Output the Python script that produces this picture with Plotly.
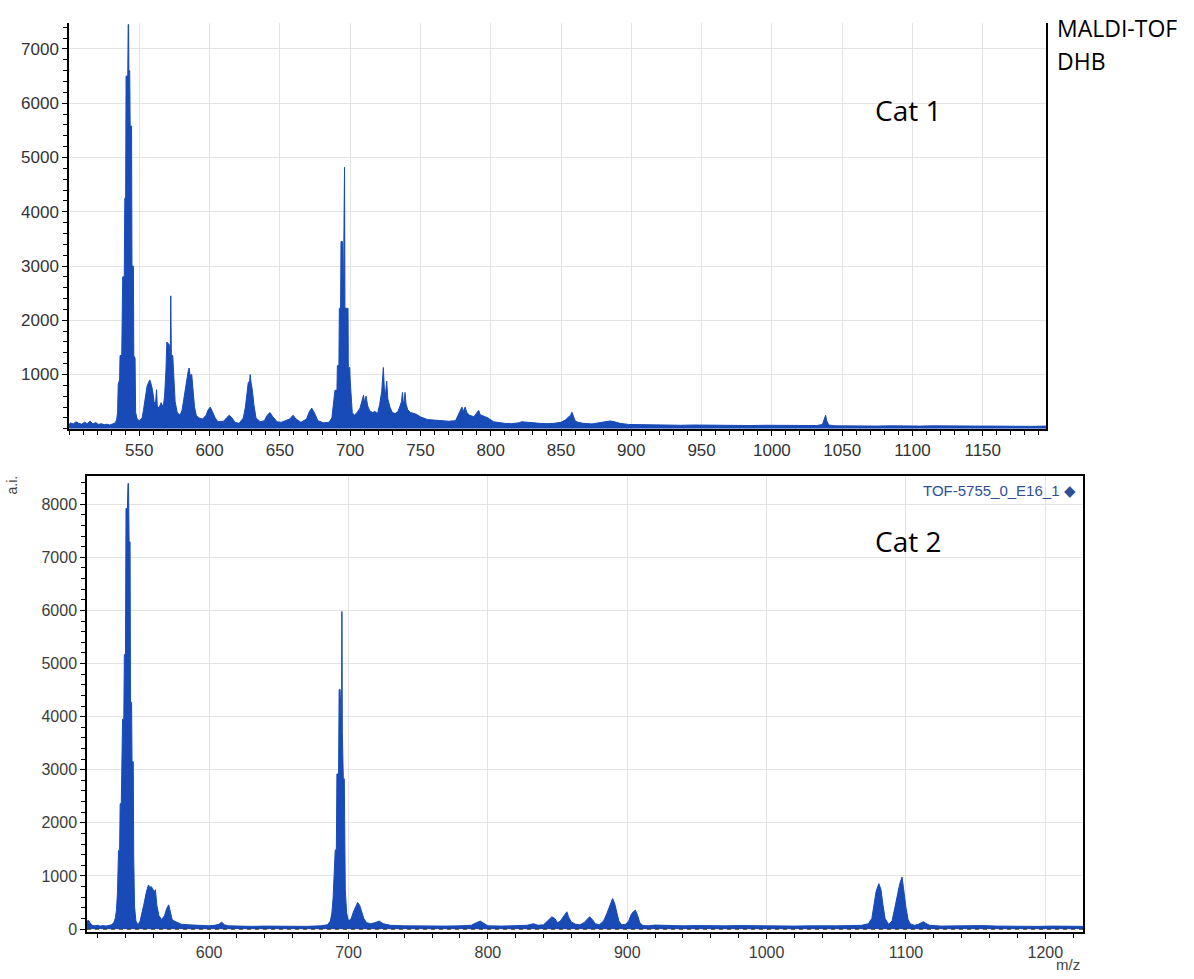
import plotly.graph_objects as go

# ---------------- data ----------------
# Top spectrum (Cat 1): (m/z, intensity) points
top_spectrum = [
    (500, 60), (501, 110), (503, 90), (505, 130), (507, 100), (509, 85), (511, 120), (513, 95),
    (515, 140), (517, 90), (519, 115), (521, 80), (523, 95), (525, 75), (527, 85), (529, 70),
    (531, 90), (533, 110), (534, 180), (534.6, 320), (535, 820), (536, 900), (536.3, 1350),
    (537.5, 1350), (538.2, 2800), (539.3, 2800), (539.7, 4250), (540.3, 4250), (540.6, 6500),
    (541.8, 6500), (542.1, 7450), (542.4, 7450), (542.6, 6600), (543.2, 6600), (543.5, 5580),
    (544.5, 5580), (544.8, 3000), (545.8, 3000), (546.1, 1350), (547, 1300), (547.4, 300),
    (548.5, 180), (550, 150), (552, 200), (553, 350), (554.5, 600), (555.5, 780), (556.5, 850),
    (557.5, 900), (558.5, 820), (559.5, 700), (560.5, 500), (561.5, 450), (562.3, 720),
    (562.8, 420), (564, 380), (565.5, 480), (567, 400), (568, 600), (569, 1100), (569.6, 1600),
    (571.3, 1550), (572, 1300), (572.4, 2450), (572.8, 1350), (573.8, 1350), (574.5, 900),
    (575.5, 500), (577, 300), (579, 250), (580.5, 350), (582, 600), (583.5, 900), (584.7, 1050),
    (585.4, 1120), (586.2, 980), (587.3, 1000), (588.3, 700), (589.3, 400), (590.5, 250),
    (592.5, 200), (595, 180), (597.5, 250), (599, 350), (600.5, 400), (602, 320), (604, 200),
    (606, 130), (608, 140), (610, 140), (612, 200), (614, 250), (616, 200), (618, 120),
    (621, 100), (624, 200), (625.5, 400), (626.5, 650), (627.5, 850), (628.5, 880), (628.9, 1000),
    (629.5, 850), (630.5, 700), (631.5, 450), (633, 200), (636, 130), (639, 150), (641, 250),
    (643, 300), (645, 220), (648, 130), (651, 120), (654, 150), (657, 180), (659.4, 250),
    (661.5, 180), (665, 120), (669, 180), (671, 320), (672.7, 380), (674.5, 300), (677, 150),
    (681, 110), (685, 120), (687, 200), (688, 400), (689.2, 710), (690.6, 710), (690.9, 1165),
    (692, 1165), (692.3, 2220), (693.2, 2220), (693.5, 3450), (694.5, 3450), (694.7, 2800),
    (695.3, 2800), (695.6, 4820), (696, 4820), (696.3, 2220), (698.5, 2220), (698.7, 1130),
    (699.7, 1130), (700, 900), (700.6, 600), (701.5, 300), (703, 250), (705, 300), (707, 380),
    (708.5, 500), (709.5, 620), (710.3, 480), (711.3, 600), (712.5, 420), (714, 330), (716, 300),
    (717.6, 320), (719.5, 280), (721, 450), (722.5, 700), (723.6, 1130), (724.3, 750), (725, 600),
    (726, 880), (726.8, 550), (728.3, 400), (730, 300), (732, 280), (734, 320), (735.5, 420),
    (736.5, 500), (737.2, 670), (737.8, 480), (738.5, 520), (739, 670), (739.8, 450), (741, 350),
    (743, 300), (745, 280), (747, 270), (750, 220), (755, 170), (760, 160), (765, 150),
    (770, 140), (775, 150), (776, 200), (778, 300), (779.5, 400), (780.5, 320), (781.8, 400),
    (783, 300), (785, 250), (788, 220), (790, 280), (791.4, 340), (792.5, 260), (795, 230),
    (798, 200), (802, 130), (806, 110), (810, 100), (815, 95), (820, 110), (822, 130), (825, 120),
    (830, 110), (835, 100), (840, 95), (845, 100), (850, 120), (853, 160), (855, 210),
    (856.8, 250), (857.8, 305), (858.8, 220), (860, 150), (862, 120), (866, 100), (872, 90),
    (878, 110), (882, 130), (885, 145), (888, 130), (892, 100), (898, 80), (905, 75), (915, 70),
    (925, 65), (935, 65), (945, 70), (955, 65), (965, 70), (975, 65), (985, 60), (995, 65),
    (1005, 60), (1015, 60), (1025, 55), (1032, 60), (1036, 80), (1037.5, 180), (1038.2, 250),
    (1039, 150), (1040.5, 70), (1045, 55), (1055, 50), (1065, 55), (1075, 50), (1085, 55),
    (1095, 50), (1105, 50), (1115, 55), (1125, 50), (1135, 55), (1145, 50), (1155, 50),
    (1165, 45), (1175, 50), (1185, 45), (1195, 50),
]

# Bottom spectrum (Cat 2): (m/z, intensity) points
bottom_spectrum = [
    (512.4, 150), (513.6, 160), (514.5, 120), (516, 70), (518, 60), (520, 70), (522, 55), (524, 65),
    (526, 55), (528, 70), (530, 80), (531.5, 120), (532.7, 200), (533.5, 350), (534.3, 700),
    (535, 1480), (535.8, 1480), (536.2, 2360), (537, 2360), (537.9, 3950), (538.8, 3950),
    (539.2, 5170), (540, 5170), (540.4, 7920), (541.4, 7920), (541.8, 8390), (542.2, 8390),
    (542.6, 7290), (543.3, 7290), (543.6, 4270), (544.4, 4270), (544.7, 3150), (545.6, 3150),
    (545.9, 1400), (546.5, 430), (547.5, 150), (549, 80), (550.5, 150), (552, 300), (553.5, 500),
    (555, 700), (556.5, 830), (557.5, 780), (558.5, 800), (559.5, 760), (560.5, 700),
    (561.5, 740), (562.5, 450), (564, 250), (566, 180), (568, 250), (569.5, 380), (571, 455),
    (572.3, 300), (573.5, 180), (575, 150), (577, 120), (580, 90), (585, 80), (590, 70),
    (595, 65), (600, 60), (604, 70), (607, 90), (609, 130), (611, 80), (614, 60), (620, 55),
    (630, 50), (640, 55), (650, 50), (660, 55), (670, 50), (680, 60), (685, 80), (687, 150),
    (688.1, 300), (689, 600), (690.5, 1490), (691.3, 1490), (691.7, 2920), (692.9, 2920),
    (693.3, 4510), (694, 4510), (694.5, 3700), (695, 3700), (695.3, 5980), (695.6, 3700),
    (696.3, 2830), (697, 2830), (697.7, 740), (698.7, 300), (700, 150), (702, 200), (703.5, 320),
    (705, 420), (706.6, 500), (708, 450), (709.5, 300), (711, 200), (713, 120), (716, 100),
    (719, 120), (722, 150), (725, 100), (730, 70), (740, 60), (750, 55), (760, 60), (770, 55),
    (780, 60), (788, 70), (791, 110), (794.5, 150), (797, 110), (800, 60), (810, 55), (820, 60),
    (828, 70), (832.8, 100), (836, 70), (840, 80), (843, 150), (845.9, 230), (848, 200),
    (850, 120), (852, 150), (854.5, 250), (856.7, 325), (858, 220), (860, 130), (863, 90),
    (866, 80), (869, 120), (871.5, 200), (873, 230), (875, 180), (877, 100), (880, 80),
    (883, 150), (885.5, 300), (887.5, 420), (889.5, 575), (891, 480), (892.5, 300), (894, 150),
    (896, 80), (899, 90), (901, 150), (903, 280), (904.5, 330), (905.9, 355), (907.5, 250),
    (909, 120), (911, 70), (915, 60), (920, 75), (930, 65), (940, 60), (950, 65), (960, 60),
    (970, 60), (980, 65), (990, 60), (1000, 55), (1010, 60), (1020, 55), (1030, 60), (1040, 55),
    (1050, 60), (1060, 65), (1068, 70), (1073, 100), (1075.5, 200), (1077, 450), (1078.5, 700),
    (1080.5, 855), (1082, 750), (1083.5, 450), (1085, 200), (1087.5, 90), (1090, 150),
    (1092, 400), (1094, 700), (1095.5, 850), (1097.2, 980), (1098.5, 700), (1100, 400),
    (1101.5, 180), (1103, 100), (1106, 70), (1109, 90), (1111, 120), (1112.5, 137), (1114, 110),
    (1117, 70), (1125, 55), (1135, 60), (1145, 55), (1155, 65), (1165, 55), (1175, 50),
    (1185, 55), (1195, 50), (1205, 55), (1215, 50), (1227, 50),
]

top_x_ticks = [550, 600, 650, 700, 750, 800, 850, 900, 950, 1000, 1050, 1100, 1150]
top_y_ticks = [1000, 2000, 3000, 4000, 5000, 6000, 7000]
bottom_x_ticks = [600, 700, 800, 900, 1000, 1100, 1200]
bottom_y_ticks = [0, 1000, 2000, 3000, 4000, 5000, 6000, 7000, 8000]
top_x_range = [500, 1195]
top_y_range = [0, 7480]
bottom_x_range = [512.4, 1227]
bottom_y_range = [-60, 8540]
baseline_level = [0, 0]

legend_label = "TOF-5755_0_E16_1 \u25c6"

# ---------------- figure ----------------
W, H = 1194, 979
BLUE = "#184bb8"
GRID = "#e4e4e4"
TICKFONT_TOP = dict(family="Arial", size=17, color="#333333")
TICKFONT_BOT = dict(family="Arial", size=16, color="#3c3c3c")


def px(x):
    return x / W


def py(y):
    return 1 - y / H


top_mz, top_int = zip(*top_spectrum)
bot_mz, bot_int = zip(*bottom_spectrum)

fig = go.Figure()

fig.add_trace(go.Scatter(
    x=top_mz, y=top_int, mode="lines", fill="tozeroy",
    line=dict(color=BLUE, width=1), fillcolor=BLUE,
    xaxis="x", yaxis="y", hoverinfo="x+y",
))
fig.add_trace(go.Scatter(
    x=bot_mz, y=bot_int, mode="lines", fill="tozeroy",
    line=dict(color=BLUE, width=1), fillcolor=BLUE,
    xaxis="x2", yaxis="y2", hoverinfo="x+y",
))
fig.add_trace(go.Scatter(
    x=bottom_x_range, y=baseline_level, mode="lines",
    line=dict(color="#3a3a3a", width=1.2, dash="4px,4px"),
    xaxis="x2", yaxis="y2", hoverinfo="skip",
))

common_minor = dict(ticks="outside", ticklen=4, tickcolor="black", tickwidth=1, showgrid=False)

fig.update_layout(
    width=W, height=H,
    margin=dict(l=0, r=0, t=0, b=0),
    paper_bgcolor="white", plot_bgcolor="white",
    showlegend=False,
    xaxis=dict(
        domain=[px(69), px(1046)], anchor="y", range=top_x_range,
        tickvals=top_x_ticks, ticks="outside", ticklen=5, tickcolor="black",
        showline=True, linecolor="black", linewidth=1.5, mirror=False,
        showgrid=True, gridcolor=GRID, zeroline=False,
        tickfont=TICKFONT_TOP,
        minor=dict(dtick=10, tick0=500, **common_minor),
    ),
    yaxis=dict(
        domain=[py(431), py(23)], anchor="x", range=top_y_range,
        tickvals=top_y_ticks, ticks="outside", ticklen=5, tickcolor="black",
        showline=True, linecolor="black", linewidth=1.5, mirror=True,
        showgrid=True, gridcolor=GRID, zeroline=False,
        tickfont=TICKFONT_TOP,
        minor=dict(dtick=200, tick0=0, **common_minor),
    ),
    xaxis2=dict(
        domain=[px(87), px(1083)], anchor="y2", range=bottom_x_range,
        tickvals=bottom_x_ticks, ticks="outside", ticklen=5, tickcolor="black",
        showline=True, linecolor="black", linewidth=1.5, mirror=True,
        showgrid=True, gridcolor=GRID, zeroline=False,
        tickfont=TICKFONT_BOT,
        minor=dict(dtick=20, tick0=500, **common_minor),
    ),
    yaxis2=dict(
        domain=[py(937), py(478)], anchor="x2", range=bottom_y_range,
        tickvals=bottom_y_ticks, ticks="outside", ticklen=5, tickcolor="black",
        showline=True, linecolor="black", linewidth=1.5, mirror=True,
        showgrid=True, gridcolor=GRID, zeroline=False,
        tickfont=TICKFONT_BOT,
        minor=dict(dtick=200, tick0=0, **common_minor),
    ),
)

ann = [
    dict(text="Cat 1", x=px(873), y=py(111), xanchor="left", yanchor="middle",
         font=dict(family="Open Sans", size=28, color="black")),
    dict(text="Cat 2", x=px(873), y=py(544), xanchor="left", yanchor="middle",
         font=dict(family="Open Sans", size=28, color="black")),
    dict(text="MALDI-TOF", x=px(1055), y=py(28), xanchor="left", yanchor="middle",
         font=dict(family="Open Sans", size=23, color="black")),
    dict(text="DHB", x=px(1055), y=py(61), xanchor="left", yanchor="middle",
         font=dict(family="Open Sans", size=23, color="black")),
    dict(text=legend_label, x=px(1078), y=py(493), xanchor="right", yanchor="middle",
         font=dict(family="Arial", size=15, color="#2f4f96")),
    dict(text="a.i.", x=px(12), y=py(488), xanchor="center", yanchor="middle", textangle=-90,
         font=dict(family="Arial", size=14, color="#444444")),
    dict(text="m/z", x=px(1082), y=py(969), xanchor="right", yanchor="middle",
         font=dict(family="Arial", size=15, color="#444444")),
]
for a in ann:
    fig.add_annotation(xref="paper", yref="paper", showarrow=False, **a)

fig.write_html("out.html")
